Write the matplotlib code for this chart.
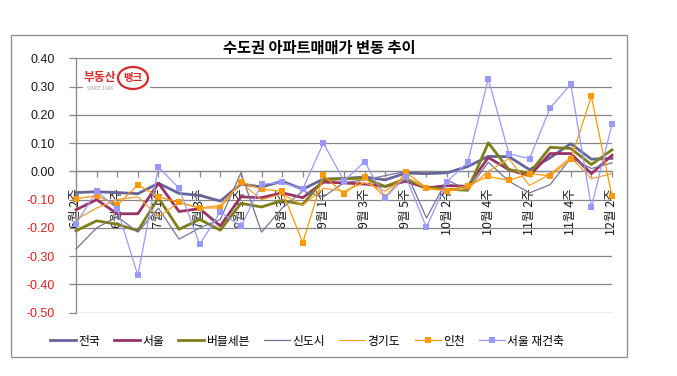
import matplotlib
matplotlib.use("Agg")
import matplotlib.pyplot as plt
from matplotlib.patches import Rectangle, Ellipse
from matplotlib.lines import Line2D

plt.rcParams['font.family'] = ['Noto Sans CJK KR', 'DejaVu Sans']

categories = ["6월 2주", "6월 3주", "6월 4주", "6월 5주", "7월 1주", "7월 2주", "7월 3주", "7월 4주",
              "8월 1주", "8월 2주", "8월 3주", "8월 4주", "9월 1주", "9월 2주", "9월 3주", "9월 4주",
              "9월 5주", "10월 1주", "10월 2주", "10월 3주", "10월 4주", "11월 1주", "11월 2주",
              "11월 3주", "11월 4주", "12월 1주", "12월 2주"]

jeonguk = [-0.075, -0.072, -0.075, -0.079, -0.042, -0.078, -0.085, -0.105, -0.045, -0.055, -0.035,
           -0.063, -0.027, -0.025, -0.020, -0.030, -0.006, -0.008, -0.005, 0.017, 0.053, 0.052,
           0.006, 0.048, 0.098, 0.043, 0.046]
seoul = [-0.136, -0.100, -0.150, -0.150, -0.042, -0.142, -0.132, -0.193, -0.090, -0.093, -0.076,
         -0.093, -0.038, -0.041, -0.045, -0.053, -0.035, -0.059, -0.050, -0.053, 0.049, 0.006,
         -0.016, 0.063, 0.063, -0.008, 0.057]
bubble7 = [-0.210, -0.175, -0.187, -0.210, -0.094, -0.205, -0.170, -0.208, -0.113, -0.126, -0.103,
           -0.117, -0.030, -0.026, -0.024, -0.054, -0.026, -0.058, -0.063, -0.067, 0.101, 0.006,
           -0.006, 0.085, 0.081, 0.024, 0.076]
newtown = [-0.275, -0.200, -0.160, -0.215, -0.130, -0.240, -0.200, -0.170, -0.005, -0.215, -0.130,
           -0.070, -0.090, -0.040, -0.030, -0.015, 0.000, -0.165, -0.030, -0.067, 0.032, -0.035,
           -0.076, -0.047, 0.047, 0.010, 0.030]
gyeonggi = [-0.170, -0.130, -0.100, -0.090, -0.160, -0.110, -0.130, -0.120, -0.040, -0.100, -0.080,
            -0.120, -0.060, -0.070, -0.040, -0.070, -0.020, -0.060, -0.070, -0.061, 0.000, 0.045,
            -0.050, -0.010, 0.050, -0.026, -0.008]
incheon = [-0.097, -0.086, -0.120, -0.048, -0.090, -0.110, -0.130, -0.129, -0.038, -0.063, -0.070,
           -0.252, -0.014, -0.080, -0.021, -0.092, -0.004, -0.058, -0.068, -0.050, -0.018, -0.032,
           -0.008, -0.016, 0.042, 0.265, -0.088]
seoul_recon = [-0.185, -0.070, -0.133, -0.368, 0.015, -0.060, -0.258, -0.143, -0.195, -0.046, -0.039,
               -0.062, 0.100, -0.034, 0.034, -0.093, -0.019, -0.198, -0.036, 0.032, 0.327, 0.062,
               0.045, 0.224, 0.309, -0.126, 0.166]

series_names = ["전국", "서울", "버블세븐", "신도시", "경기도", "인천", "서울 재건축"]
yticks = [0.40, 0.30, 0.20, 0.10, 0.00, -0.10, -0.20, -0.30, -0.40, -0.50]

styles = [
    dict(color="#666699", lw=2.0),
    dict(color="#993366", lw=2.0),
    dict(color="#7F7F1A", lw=2.0),
    dict(color="#747499", lw=0.9),
    dict(color="#F5A030", lw=0.9),
    dict(color="#FF9900", lw=0.9, marker="s", ms=4.2),
    dict(color="#9999FF", lw=0.9, marker="s", ms=4.2),
]
data = [jeonguk, seoul, bubble7, newtown, gyeonggi, incheon, seoul_recon]

W, H = 677, 376
fig = plt.figure(figsize=(W / 100, H / 100), dpi=100)
fig.patch.set_facecolor("white")

# outer frame
fig.add_artist(Rectangle((11 / W, 1 - 357 / H), (627 - 11) / W, (357 - 35) / H,
                         transform=fig.transFigure, fill=False, ec="#8C8C8C", lw=0.9))

ax = fig.add_axes([76 / W, 1 - 312.7 / H, (612 - 76) / W, (312.7 - 58.3) / H])
x = list(range(len(categories)))
ax.set_xlim(0, len(categories) - 1)
ax.set_ylim(-0.50, 0.40)

ax.set_yticks(yticks)
for yv in yticks:
    ax.axhline(yv, color="#878787", lw=0.9, zorder=0)

for vals, name, st in zip(data, series_names, styles):
    ax.plot(x, vals, label=name, zorder=3, clip_on=False, markeredgewidth=0, **st)

for s in ["top", "right"]:
    ax.spines[s].set_visible(False)
ax.spines["left"].set_color("#878787")
ax.spines["left"].set_linewidth(0.9)
ax.spines["bottom"].set_position(("data", 0))
ax.spines["bottom"].set_color("#878787")
ax.spines["bottom"].set_linewidth(0.9)

ax.set_xticks(x)
ax.set_xticklabels([c if i % 2 == 0 else "" for i, c in enumerate(categories)],
                   rotation=90, fontsize=9, color="#1a1a1a", va="top", ha="center")
ax.tick_params(axis="x", direction="out", length=4, width=0.9, color="#878787", pad=8)
ax.tick_params(axis="y", direction="out", length=5, width=0.9, color="#878787", pad=10)
ax.set_yticklabels([f"{v:.2f}" for v in yticks])
for lbl, v in zip(ax.get_yticklabels(), yticks):
    lbl.set_fontfamily("Liberation Sans")
    lbl.set_fontsize(9)
    lbl.set_color("#E0201E" if v < 0 else "#1a1a1a")

# title
fig.text(319 / W, 1 - 48 / H, "수도권 아파트매매가 변동 추이", ha="center", va="center",
         fontsize=11, fontweight="bold", color="black")

# logo
fig.add_artist(Rectangle((83 / W, 1 - 95 / H), 67 / W, 28 / H, transform=fig.transFigure,
                         fc="white", ec="none", zorder=4))
fig.text(100 / W, 1 - 78 / H, "부동산", ha="center", va="center", fontsize=8.5,
         fontweight="bold", color="#D42A2A", zorder=5)
fig.add_artist(Ellipse((133 / W, 1 - 78 / H), 30 / W, 22 / H, transform=fig.transFigure,
                       fill=False, ec="#D42A2A", lw=1.6, zorder=5))
fig.text(133 / W, 1 - 78 / H, "뱅크", ha="center", va="center", fontsize=7.5,
         fontweight="bold", color="#D42A2A", zorder=6)
fig.text(100 / W, 1 - 88 / H, "SINCE 1988", ha="center", va="center", fontsize=3.5,
         color="#9A9A9A", zorder=5)

# legend
handles = [Line2D([0], [0], **st) for st in styles]
for h in handles:
    h.set_markeredgewidth(0)
fig.legend(handles, series_names, loc="center", bbox_to_anchor=(307 / W, 1 - 341 / H),
           ncol=7, frameon=False, fontsize=8.5, handlelength=2.2, handletextpad=0.2,
           columnspacing=1.2, numpoints=1)

fig.savefig("out.png", dpi=100, facecolor="white")
